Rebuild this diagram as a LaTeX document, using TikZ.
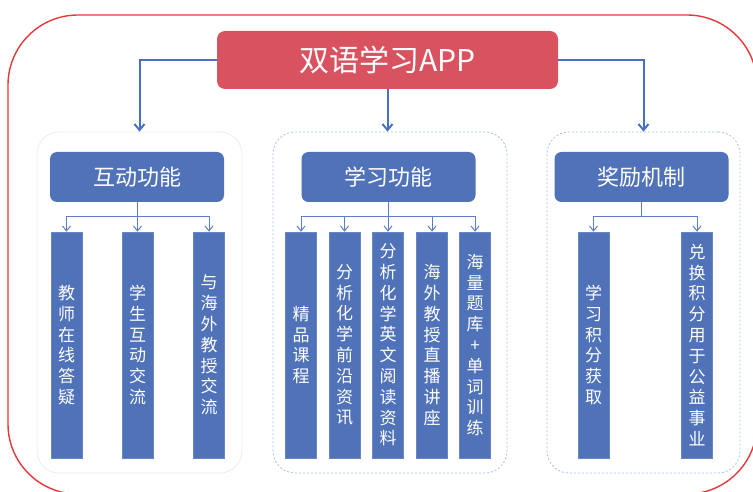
\documentclass[tikz,border=0pt]{standalone}
\usepackage{fontspec}
\setmainfont{Noto Sans CJK SC}
\usetikzlibrary{arrows.meta}
\definecolor{rboxc}{HTML}{D9525F}
\definecolor{bluec}{HTML}{4F72B8}
\definecolor{linec}{HTML}{4A70C0}
\definecolor{outerred}{HTML}{E5383B}
\definecolor{dashc}{HTML}{A9BEE4}
\definecolor{faintc}{HTML}{E6ECF4}
\begin{document}
\begin{tikzpicture}[x=1pt,y=-1pt,
  titlebox/.style={fill=rboxc,rounded corners=8pt,minimum width=341pt,minimum height=58pt,inner sep=0pt,text=white,font=\fontsize{30}{34}\selectfont},
  panelbox/.style={rounded corners=22pt,minimum height=341pt,inner sep=0pt},
  headbox/.style={fill=bluec,rounded corners=7pt,minimum width=174pt,minimum height=50pt,inner sep=0pt,text=white,font=\fontsize{22}{26}\selectfont},
  barbox/.style={fill=bluec,draw=bluec!85!white,line width=0.6pt,minimum width=31pt,minimum height=226pt,inner sep=0pt,text=white,align=center,font=\fontsize{17}{20.8}\selectfont},
  mainarrow/.style={draw=linec,line width=2pt,-{Straight Barb[length=6pt,width=10pt]}},
  subarrow/.style={draw=linec!90!white,line width=1pt,-{Straight Barb[length=5pt,width=8pt]}}
]
\useasboundingbox (0,0) rectangle (753,492);
\begin{scope}
\clip (0,0) rectangle (753,492);
\draw[outerred,line width=1.4pt,rounded corners=70pt] (8,15) rectangle (757,494);
\end{scope}

% panels
\node[panelbox,draw=faintc,line width=0.8pt,minimum width=205pt] (p1) at (139.5,302.5) {};
\node[panelbox,draw=dashc,dash pattern=on 2pt off 2pt,line width=0.8pt,minimum width=234pt] (p2) at (390,302.5) {};
\node[panelbox,draw=dashc,dash pattern=on 2pt off 2pt,line width=0.8pt,minimum width=193pt] (p3) at (643.5,302.5) {};

% title
\node[titlebox] (app) at (387.5,60) {双语学习APP};

% headers
\node[headbox] (h1) at (137,177) {互动功能};
\node[headbox] (h2) at (388.5,177) {学习功能};
\node[headbox] (h3) at (641.5,177) {奖励机制};

% bars
\node[barbox] (b11) at (66.5,345) {教\\师\\在\\线\\答\\疑};
\node[barbox] (b12) at (137.5,345) {学\\生\\互\\动\\交\\流};
\node[barbox] (b13) at (209,345) {与\\海\\外\\教\\授\\交\\流};

\node[barbox] (b21) at (301,345) {精\\品\\课\\程};
\node[barbox] (b22) at (344.5,345) {分\\析\\化\\学\\前\\沿\\资\\讯};
\node[barbox] (b23) at (388,345) {分\\析\\化\\学\\英\\文\\阅\\读\\资\\料};
\node[barbox] (b24) at (432,345) {海\\外\\教\\授\\直\\播\\讲\\座};
\node[barbox] (b25) at (475,345) {海\\量\\题\\库\\+\\单\\词\\训\\练};

\node[barbox] (b31) at (593.5,345) {学\\习\\积\\分\\获\\取};
\node[barbox] (b32) at (697,345) {兑\\换\\积\\分\\用\\于\\公\\益\\事\\业};

% main arrows
\draw[mainarrow] (app.west) -| (p1.north);
\draw[mainarrow] (app.south) -- (app.south |- p2.north);
\draw[mainarrow] (app.east) -| (p3.north);

% junctions
\coordinate (j1) at (137,217);
\coordinate (j2) at (388.5,217);
\coordinate (j3) at (641.5,217);
\draw[linec!90!white,line width=1pt] (h1.south) -- (j1);
\draw[linec!90!white,line width=1pt] (h2.south) -- (j2);
\draw[linec!90!white,line width=1pt] (h3.south) -- (j3);
\foreach \b in {b11,b12,b13} \draw[subarrow] (j1) -| (\b.north);
\foreach \b in {b21,b22,b23,b24,b25} \draw[subarrow] (j2) -| (\b.north);
\foreach \b in {b31,b32} \draw[subarrow] (j3) -| (\b.north);
\end{tikzpicture}
\end{document}
